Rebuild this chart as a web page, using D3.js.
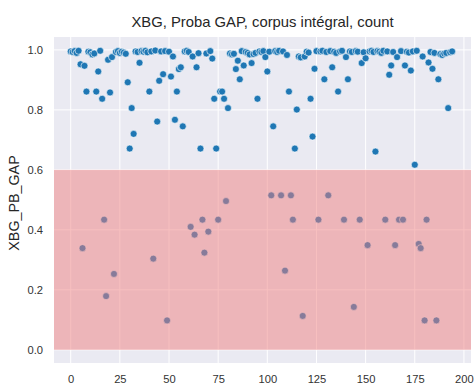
<!DOCTYPE html>
<html>
<head>
<meta charset="utf-8">
<script src="https://cdn.jsdelivr.net/npm/d3@7"></script>
<style>
  html, body { margin: 0; padding: 0; background: #ffffff; }
  svg { display: block; }
  text { font-family: "Liberation Sans", Arial, sans-serif; }
</style>
</head>
<body>
<svg id="chart" width="476" height="387"></svg>
<script>
// XBG_PB_GAP per sample (x = sample index 0..194)
const probaGap = [
  0.995, 0.993, 0.996, 0.990, 0.997, 0.952, 0.339, 0.947, 0.861, 0.994,
  0.992, 0.985, 0.988, 0.861, 0.928, 0.997, 0.837, 0.434, 0.179, 0.967,
  0.858, 0.976, 0.253, 0.993, 0.996, 0.990, 0.994, 0.991, 0.987, 0.892,
  0.671, 0.806, 0.720, 0.995, 0.993, 0.957, 0.996, 0.994, 0.997, 0.992,
  0.861, 0.995, 0.304, 0.998, 0.761, 0.897, 0.995, 0.919, 0.996, 0.098,
  0.994, 0.911, 0.978, 0.767, 0.861, 0.936, 0.942, 0.745, 0.995, 0.997,
  0.993, 0.410, 0.978, 0.384, 0.942, 0.989, 0.671, 0.434, 0.324, 0.988,
  0.394, 0.996, 0.971, 0.837, 0.671, 0.434, 0.861, 0.861, 0.837, 0.496,
  0.806, 0.988, 0.985, 0.987, 0.936, 0.964, 0.902, 0.996, 0.948, 0.993,
  0.990, 0.985, 0.956, 0.986, 0.990, 0.837, 0.995, 0.993, 0.996, 0.976,
  0.928, 0.994, 0.515, 0.745, 0.996, 0.993, 0.997, 0.515, 0.995, 0.264,
  0.983, 0.861, 0.515, 0.434, 0.671, 0.801, 0.978, 0.975, 0.113, 0.978,
  0.994, 0.991, 0.837, 0.711, 0.937, 0.996, 0.434, 0.995, 0.997, 0.902,
  0.993, 0.515, 0.996, 0.942, 0.994, 0.990, 0.861, 0.995, 0.997, 0.434,
  0.976, 0.902, 0.995, 0.993, 0.143, 0.996, 0.994, 0.434, 0.956, 0.992,
  0.972, 0.349, 0.995, 0.997, 0.993, 0.661, 0.996, 0.994, 0.990, 0.997,
  0.434, 0.995, 0.917, 0.948, 0.993, 0.349, 0.976, 0.434, 0.996, 0.434,
  0.948, 0.994, 0.991, 0.931, 0.995, 0.617, 0.997, 0.353, 0.339, 0.978,
  0.098, 0.434, 0.958, 0.993, 0.937, 0.990, 0.098, 0.902, 0.986, 0.983,
  0.988, 0.990, 0.806, 0.992, 0.995
];
const xTicks = [0, 25, 50, 75, 100, 125, 150, 175, 200];
const yTicks = [0.0, 0.2, 0.4, 0.6, 0.8, 1.0];
const gapBand = [0.0, 0.6];

const title = "XBG, Proba GAP, corpus intégral, count";
const yLabel = "XBG_PB_GAP";

const svg = d3.select("#chart");
const plot = { left: 54, right: 471, top: 37, bottom: 363 };

const x = d3.scaleLinear().domain([-8.5, 203.6]).range([plot.left, plot.right]);
const y = d3.scaleLinear().domain([-0.044, 1.043]).range([plot.bottom, plot.top]);

// axes background (darkgrid)
svg.append("rect")
  .attr("x", plot.left).attr("y", plot.top)
  .attr("width", plot.right - plot.left).attr("height", plot.bottom - plot.top)
  .attr("fill", "#EAEAF2");

// grid lines
const grid = svg.append("g");
grid.selectAll("line.vx").data(xTicks).join("line")
  .attr("x1", d => x(d)).attr("x2", d => x(d))
  .attr("y1", plot.top).attr("y2", plot.bottom)
  .attr("stroke", "#ffffff").attr("stroke-width", 1);
grid.selectAll("line.hy").data(yTicks).join("line")
  .attr("y1", d => y(d)).attr("y2", d => y(d))
  .attr("x1", plot.left).attr("x2", plot.right)
  .attr("stroke", "#ffffff").attr("stroke-width", 1);

// scatter points
const pts = probaGap.map((v, i) => ({ i, v }));
svg.append("g").selectAll("circle").data(pts).join("circle")
  .attr("cx", d => x(d.i))
  .attr("cy", d => y(d.v))
  .attr("r", 3.5)
  .attr("fill", "#1f77b4")
  .attr("stroke", "#ffffff")
  .attr("stroke-width", 0.6);

// GAP zone overlay
svg.append("rect")
  .attr("x", plot.left)
  .attr("width", plot.right - plot.left)
  .attr("y", y(gapBand[1]))
  .attr("height", y(gapBand[0]) - y(gapBand[1]))
  .attr("fill", "#F08080")
  .attr("fill-opacity", 0.5);

// tick labels (no tick marks in darkgrid style)
const xAxis = d3.axisBottom(x).tickValues(xTicks).tickSize(0).tickPadding(12).tickFormat(d3.format("d"));
const gx = svg.append("g").attr("transform", `translate(0,${plot.bottom})`).call(xAxis);
gx.select(".domain").remove();
gx.selectAll("text").attr("fill", "#333333").attr("font-size", 11.2)
  .attr("font-family", "'Liberation Sans', Arial, sans-serif");

const yAxis = d3.axisLeft(y).tickValues(yTicks).tickSize(0).tickPadding(11).tickFormat(d3.format(".1f"));
const gy = svg.append("g").attr("transform", `translate(${plot.left},0)`).call(yAxis);
gy.select(".domain").remove();
gy.selectAll("text").attr("fill", "#333333").attr("font-size", 11.2)
  .attr("font-family", "'Liberation Sans', Arial, sans-serif");

// title
svg.append("text")
  .attr("x", (plot.left + plot.right) / 2)
  .attr("y", 27)
  .attr("text-anchor", "middle")
  .attr("font-size", 14.8)
  .attr("fill", "#262626")
  .text(title);

// y axis label
svg.append("text")
  .attr("transform", `translate(19,${(plot.top + plot.bottom) / 2 + 3}) rotate(-90)`)
  .attr("text-anchor", "middle")
  .attr("font-size", 14.3)
  .attr("fill", "#262626")
  .text(yLabel);
</script>
</body>
</html>
